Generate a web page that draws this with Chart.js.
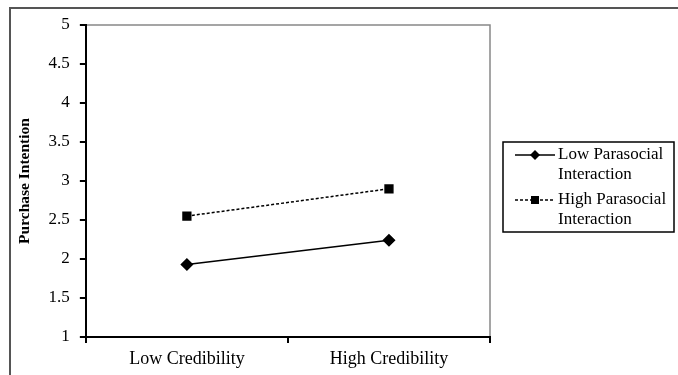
<!DOCTYPE html>
<html>
<head>
<meta charset="utf-8">
<script src="https://cdn.jsdelivr.net/npm/chart.js@4.4.0/dist/chart.umd.min.js"></script>
<style>
  html, body { margin: 0; padding: 0; background: #fff; }
  #wrap { width: 678px; height: 375px; position: relative; }
</style>
</head>
<body>
<div id="wrap"><canvas id="linecanvas" width="678" height="375"></canvas></div>
<script>
var categories = ["Low Credibility", "High Credibility"];
var lowParasocial = [1.93, 2.24];
var highParasocial = [2.55, 2.90];
var yTicks = [1, 1.5, 2, 2.5, 3, 3.5, 4, 4.5, 5];
var legendLines = [["Low Parasocial", "Interaction"], ["High Parasocial", "Interaction"]];

var serif = "'Liberation Serif', 'Times New Roman', serif";

// frame round the whole figure + gray top/right edge of the plot
var framePlugin = {
	id: "frame",
	beforeDraw: function(chart) {
		var c = chart.ctx;
		c.save();
		c.fillStyle = "#fff";
		c.fillRect(0, 0, chart.width, chart.height);
		c.strokeStyle = "#555";
		c.lineWidth = 2;
		c.beginPath();
		c.moveTo(10, 375);
		c.lineTo(10, 8);
		c.lineTo(678, 8);
		c.stroke();
		var a = chart.chartArea;
		c.strokeStyle = "#888";
		c.lineWidth = 1.5;
		c.beginPath();
		c.moveTo(a.left, a.top);
		c.lineTo(a.right, a.top);
		c.lineTo(a.right, a.bottom);
		c.stroke();
		c.restore();
	}
};

// legend box on the right, two-line labels
var legendPlugin = {
	id: "boxLegend",
	afterDraw: function(chart) {
		var c = chart.ctx;
		c.save();
		c.strokeStyle = "#000";
		c.lineWidth = 1.5;
		c.strokeRect(503, 142, 171, 90);
		c.font = "17px " + serif;
		c.fillStyle = "#000";
		c.textBaseline = "middle";
		var rows = [155, 200];
		chart.data.datasets.forEach(function(ds, i) {
			var y = rows[i];
			c.beginPath();
			c.setLineDash(ds.borderDash || []);
			c.lineWidth = ds.borderWidth;
			c.moveTo(515, y);
			c.lineTo(555, y);
			c.stroke();
			c.setLineDash([]);
			if (ds.pointStyle === "rectRot") {
				c.beginPath();
				c.moveTo(535, y - 5);
				c.lineTo(540, y);
				c.lineTo(535, y + 5);
				c.lineTo(530, y);
				c.closePath();
				c.fill();
			} else {
				c.fillRect(531, y - 4, 8, 8);
			}
			c.fillText(legendLines[i][0], 558, y);
			c.fillText(legendLines[i][1], 558, y + 20);
		});
		c.restore();
	}
};

var chartdata = {
	labels: categories,
	datasets: [
		{
			label: "Low Parasocial Interaction",
			data: lowParasocial,
			borderColor: "#000",
			backgroundColor: "#000",
			borderWidth: 1.5,
			pointStyle: "rectRot",
			pointRadius: 5.5,
			fill: false
		},
		{
			label: "High Parasocial Interaction",
			data: highParasocial,
			borderColor: "#000",
			backgroundColor: "#000",
			borderWidth: 1.5,
			borderDash: [3, 2],
			pointStyle: "rect",
			pointRadius: 5.5,
			fill: false
		}
	]
};

var ctx = document.getElementById("linecanvas");

var LineGraph = new Chart(ctx, {
	type: "line",
	data: chartdata,
	options: {
		responsive: false,
		animation: false,
		layout: { padding: { left: 12, right: 188, top: 25, bottom: 0 } },
		plugins: {
			legend: { display: false },
			tooltip: { enabled: false }
		},
		scales: {
			x: {
				offset: true,
				grid: { offset: true, drawOnChartArea: false, drawTicks: true, tickLength: 6, color: "#000", lineWidth: 2 },
				border: { color: "#000", width: 2 },
				ticks: { color: "#000", font: { family: serif, size: 18, lineHeight: 1.0 }, padding: 7 }
			},
			y: {
				min: 1,
				max: 5,
				afterBuildTicks: function(scale) {
					scale.ticks = yTicks.map(function(v) { return { value: v }; });
				},
				grid: { drawOnChartArea: false, drawTicks: true, tickLength: 6, color: "#000", lineWidth: 2 },
				border: { color: "#000", width: 2 },
				ticks: {
					color: "#000",
					font: { family: serif, size: 17 },
					padding: 10,
					callback: function(v) { return String(v); }
				},
				title: {
					display: true,
					text: "Purchase Intention",
					color: "#000",
					font: { family: serif, size: 15.5, weight: "bold" },
					padding: 4
				}
			}
		}
	},
	plugins: [framePlugin, legendPlugin]
});
</script>
</body>
</html>
